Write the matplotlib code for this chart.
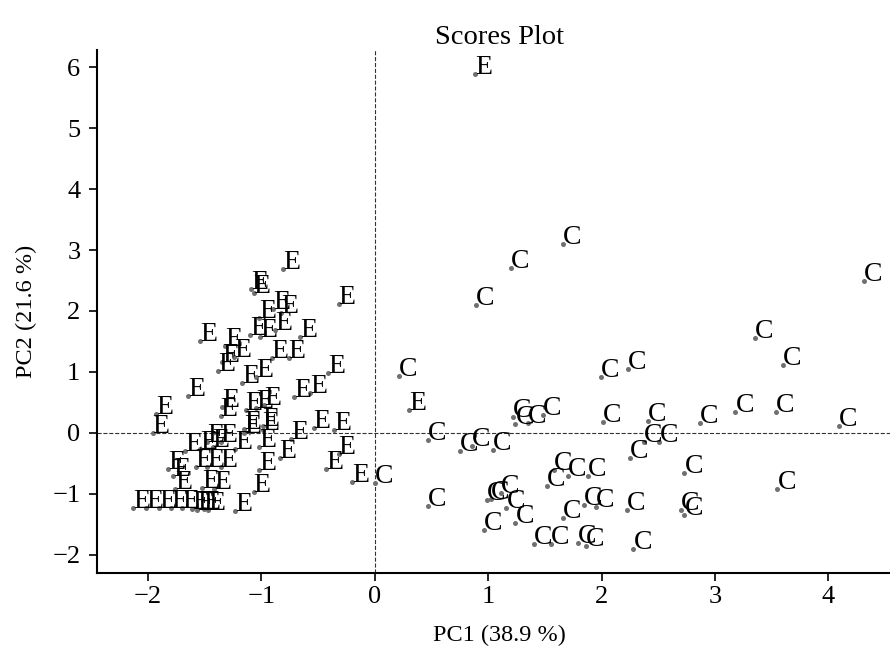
import matplotlib
matplotlib.use("Agg")
import matplotlib.pyplot as plt

plt.rcParams['font.family'] = ['Liberation Serif', 'DejaVu Serif']

# PC scores, group E
e_x = [-0.81, -1.09, -1.07, -0.32, -0.90, -0.83, -1.02, -1.10, -1.01, -0.88,
       -0.66, -1.54, -1.32, -1.24, -1.35, -1.38, -0.91, -0.76, -0.41, -1.17,
       -1.05, -1.65, -0.71, -0.57, -1.93,
       -1.35, -1.36, -1.14, -1.05, -0.98, -1.96, -1.15, -0.99, -0.54, -0.36,
       -0.74, -0.84, -0.43, -0.32, -0.20, -1.23, -1.15, -1.02, -0.99, -1.36,
       -1.48, -1.67, -1.54, -1.43, -1.02, -1.07, -1.82, -1.58, -1.48, -1.36,
       -1.78, -1.76, -1.52, -1.42,
       -2.13, -2.02, -1.90, -1.80, -1.70, -1.61, -1.57, -1.51, -1.47, -1.23,
       0.30, 0.885]
e_y = [2.69, 2.36, 2.30, 2.11, 2.04, 1.96, 1.89, 1.61, 1.57, 1.68,
       1.57, 1.50, 1.42, 1.24, 1.16, 1.01, 1.22, 1.23, 0.98, 0.82,
       0.92, 0.61, 0.59, 0.65, 0.31,
       0.42, 0.27, 0.37, 0.40, 0.45, -0.01, 0.07, 0.12, 0.08, 0.04,
       -0.10, -0.42, -0.60, -0.34, -0.80, -0.26, -0.01, -0.23, 0.04, -0.15,
       -0.15, -0.29, -0.26, -0.23, -0.61, -0.97, -0.59, -0.56, -0.56, -0.56,
       -0.70, -0.92, -0.90, -0.92,
       -1.23, -1.23, -1.23, -1.24, -1.24, -1.25, -1.27, -1.25, -1.26, -1.28,
       0.38, 5.89]

# group C
c_x = [0.21, 0.47, 0.75, 0.86, 1.04, 1.22, 1.24, 1.35, 1.48, 0.00,
       0.47, 1.99, 2.23, 2.01, 2.25, 2.22, 2.28, 0.99, 1.02, 1.11,
       1.16, 0.96, 1.24, 1.52, 1.58, 1.70, 1.88, 1.66, 1.84, 1.95,
       1.40, 1.55, 1.79, 1.86, 4.31, 3.35, 3.60, 2.41, 2.37, 2.51,
       2.87, 3.18, 3.54, 4.09, 2.73, 3.55, 2.70, 2.73, 1.66, 1.20, 0.89]
c_y = [0.94, -0.11, -0.29, -0.22, -0.28, 0.26, 0.15, 0.16, 0.30, -0.83,
       -1.20, 0.92, 1.05, 0.17, -0.42, -1.27, -1.91, -1.11, -1.09, -0.98,
       -1.24, -1.59, -1.48, -0.87, -0.61, -0.70, -0.70, -1.40, -1.19, -1.22,
       -1.83, -1.82, -1.81, -1.86, 2.49, 1.56, 1.11, 0.19, -0.15, -0.15,
       0.16, 0.34, 0.34, 0.12, -0.66, -0.92, -1.27, -1.34, 3.10, 2.71, 2.09]

pc1_label = "PC1 (38.9 %)"
pc2_label = "PC2 (21.6 %)"

fig = plt.figure(figsize=(8.9, 6.48), dpi=100)
ax = fig.add_axes([0.109, 0.1157, 0.9034, 0.807])

ax.scatter(e_x + c_x, e_y + c_y, s=13, color='#707070', linewidths=0, zorder=3)
for x, y in zip(e_x, e_y):
    ax.text(x, y, "E", fontsize=20, zorder=4)
for x, y in zip(c_x, c_y):
    ax.text(x, y, "C", fontsize=20, zorder=4)

ax.axhline(0, color='#333333', lw=0.8, ls='--', zorder=1)
ax.axvline(0, color='#333333', lw=0.8, ls='--', zorder=1)

ax.set_xlim(-2.45, 4.64)
ax.set_ylim(-2.30, 6.28)
ax.set_xticks([-2, -1, 0, 1, 2, 3, 4])
ax.set_yticks([-2, -1, 0, 1, 2, 3, 4, 5, 6])

ax.spines['top'].set_visible(False)
ax.spines['right'].set_visible(False)
ax.spines['left'].set_linewidth(1.5)
ax.spines['bottom'].set_linewidth(1.5)
ax.tick_params(labelsize=19, length=6, width=1.2)
ax.tick_params(axis='y', pad=6)

ax.set_title("Scores Plot", fontsize=20.5, pad=4)
ax.set_xlabel(pc1_label, fontsize=17.5, labelpad=12)
ax.set_ylabel(pc2_label, fontsize=17.5, labelpad=11)

fig.savefig("out.png")
